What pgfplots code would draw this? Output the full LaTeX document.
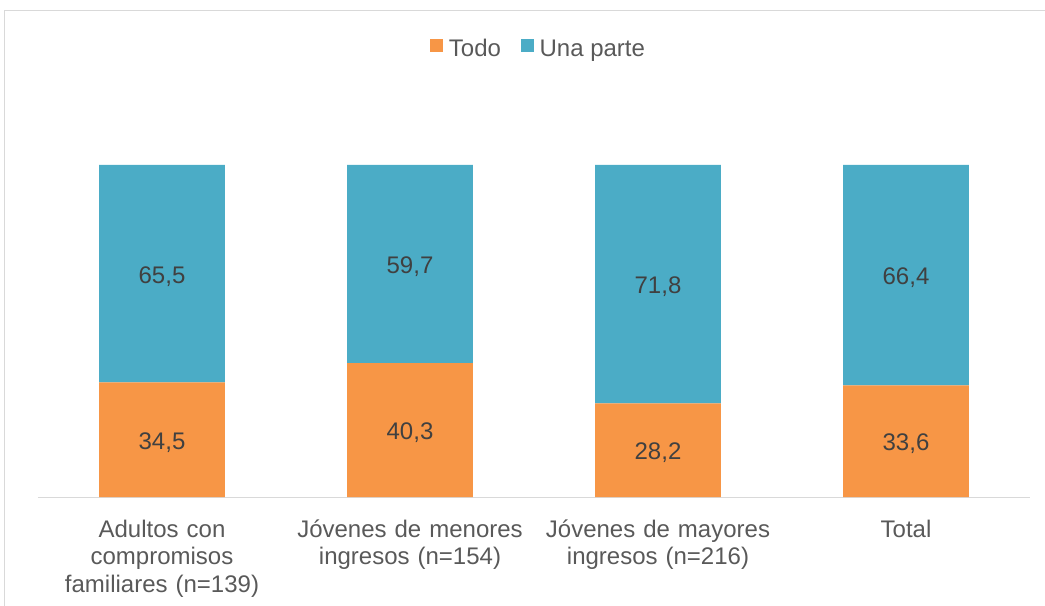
\documentclass[border=0pt]{standalone}
\usepackage{pgfplots}
\pgfplotsset{compat=1.18}
\usepackage{fontspec}
\setmainfont{Liberation Sans}
\definecolor{todo}{HTML}{F79646}
\definecolor{parte}{HTML}{4BACC6}
\definecolor{txt}{HTML}{595959}
\definecolor{lbl}{HTML}{404040}
\definecolor{frame}{HTML}{D9D9D9}
\begin{document}
\begin{tikzpicture}
\begin{axis}[
  at={(0,0)}, anchor=south west,
  scale only axis, width=744pt, height=249pt,
  ybar stacked, bar width=0.508,
  xmin=-0.5, xmax=3.5, ymin=0, ymax=100,
  axis lines*=left,
  y axis line style={draw=none},
  x axis line style={draw=frame, line width=0.75pt, -},
  ytick=\empty,
  xtick=data, major tick length=0pt,
  xticklabels={Adultos con\\compromisos\\familiares (n=139),
    Jóvenes de menores\\ingresos (n=154),
    Jóvenes de mayores\\ingresos (n=216),
    Total},
  xticklabel style={text width=180pt, align=center, yshift=-13.5pt,
    font=\fontsize{18}{20.6}\selectfont, text=txt},
  legend style={draw=none, fill=none, at={(0.505,1.35)}, anchor=center,
    legend columns=-1, font=\fontsize{18}{20.6}\selectfont, text=txt,
    /tikz/every even column/.append style={column sep=13pt}},
  legend image code/.code={\fill[#1] (0pt,-2.3pt) rectangle (9.5pt,7.2pt);
    \path (12pt,0pt);},
  visualization depends on=rawy \as \rawy,
  nodes near coords={\pgfmathprintnumber{\rawy}},
  /pgf/number format/.cd, use comma, fixed, precision=1, fixed zerofill,
    assume math mode=true, /pgfplots/.cd,
  every node near coord/.append style={anchor=center, text=lbl,
    yshift=-2pt, font=\fontsize{18}{20.6}\selectfont},
]
\addplot[fill=todo, draw=none] coordinates {(0,34.5) (1,40.3) (2,28.2) (3,33.6)};
\addlegendentry{Todo}
\addplot[fill=parte, draw=none] coordinates {(0,65.5) (1,59.7) (2,71.8) (3,66.4)};
\addlegendentry{Una parte}
\end{axis}
\pgfresetboundingbox
\begin{scope}[x=0.75pt,y=0.75pt]
\useasboundingbox (-38,-109) rectangle (1007,497);
\draw[frame, line width=0.75pt] (-34,-109) -- (-34,486) -- (1007,486);
\end{scope}
\end{tikzpicture}
\end{document}
